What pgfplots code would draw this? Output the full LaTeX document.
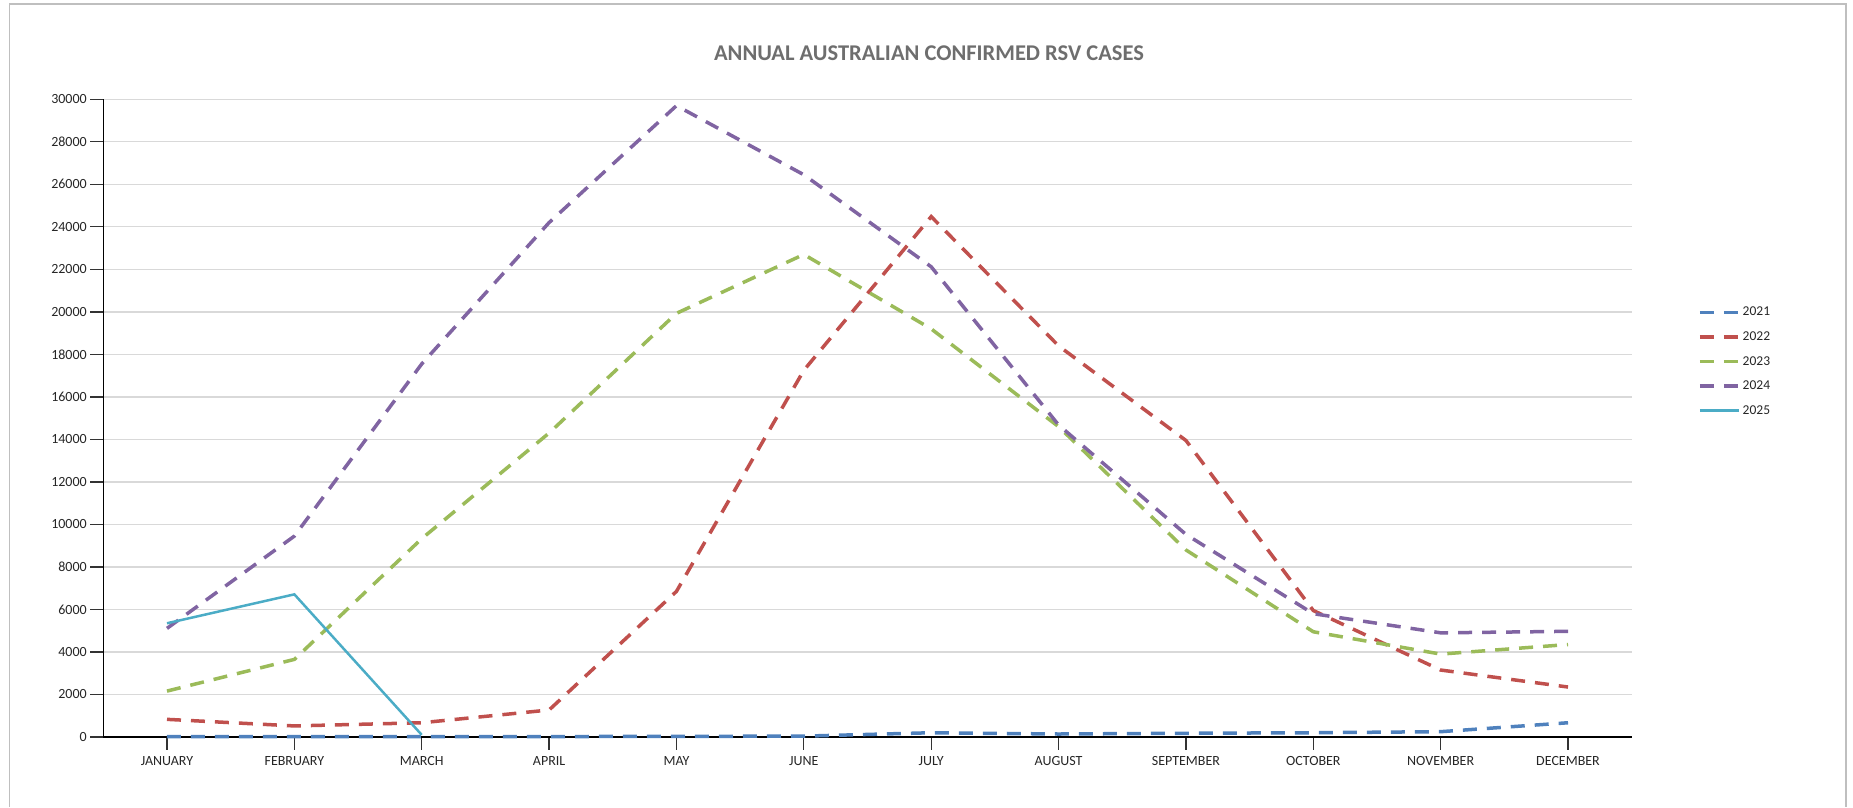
\documentclass[border=0pt]{standalone}
\usepackage{fontspec}
\setmainfont{Carlito}
\usepackage{pgfplots}
\pgfplotsset{compat=1.18}

\definecolor{c2021}{HTML}{4F81BD}
\definecolor{c2022}{HTML}{C0504D}
\definecolor{c2023}{HTML}{9BBB59}
\definecolor{c2024}{HTML}{8064A2}
\definecolor{c2025}{HTML}{4BACC6}
\definecolor{gridgray}{HTML}{D9D9D9}
\definecolor{framegray}{HTML}{BFBFBF}
\definecolor{titlegray}{HTML}{6E6E6E}
\definecolor{labelgray}{HTML}{262626}

\begin{document}
\begin{tikzpicture}
	\begin{axis}[
			scale only axis,
			width=1528.4pt, height=637.7pt,
			xmin=-0.5, xmax=11.5,
			ymin=0, ymax=30000,
			xtick={0,...,11},
			xticklabels={JANUARY,FEBRUARY,MARCH,APRIL,MAY,JUNE,JULY,AUGUST,SEPTEMBER,OCTOBER,NOVEMBER,DECEMBER},
			ytick={0,2000,...,30000},
			scaled y ticks=false,
			/pgf/number format/.cd, 1000 sep={}, assume math mode=true, /pgfplots/.cd,
			axis x line*=bottom, axis y line*=left,
			axis line style={black, line width=1.3pt, -},
			tick align=outside, tick pos=left,
			major tick length=13pt,
			tick style={black!80, line width=1.3pt},
			ymajorgrids,
			grid style={gridgray, line width=1.3pt},
			ticklabel style={font=\fontsize{14}{16}\selectfont, text=labelgray},
			xticklabel style={yshift=-3pt},
			clip=false,
			legend style={draw=none, fill=none, at={(1.0434,0.589)}, anchor=west,
				font=\fontsize{13.5}{16}\selectfont, text=labelgray, row sep=10.3pt,
				inner sep=0pt, nodes={inner sep=2pt}},
			legend cell align=left,
			legend image code/.code={\draw[#1] (0pt,0pt) -- (39pt,0pt);},
			dashline/.style={line width=3.5pt, dash pattern=on 14pt off 10pt},
		]
		% page box and chart frame, in axis description units
		\path (axis description cs:-0.06759,-0.10977) rectangle (axis description cs:1.14479,1.15571);
		\draw[framegray, line width=1.6pt] (axis description cs:-0.06137,-0.10977)
			-- (axis description cs:-0.06137,1.14945) -- (axis description cs:1.14018,1.14945)
			-- (axis description cs:1.14018,-0.10977);
		\node[font=\fontsize{22.5}{26}\selectfont\bfseries, text=titlegray]
			at (axis description cs:0.54023,1.07261) {ANNUAL AUSTRALIAN CONFIRMED RSV CASES};

		\addplot[c2021, dashline] coordinates {
			(0,20) (1,20) (2,20) (3,20) (4,30) (5,40)
			(6,200) (7,140) (8,175) (9,200) (10,250) (11,670)};
		\addlegendentry{2021}
		\addplot[c2022, dashline] coordinates {
			(0,830) (1,520) (2,670) (3,1270) (4,6850) (5,17250)
			(6,24480) (7,18400) (8,13950) (9,5950) (10,3150) (11,2350)};
		\addlegendentry{2022}
		\addplot[c2023, dashline] coordinates {
			(0,2160) (1,3650) (2,9330) (3,14300) (4,19930) (5,22700)
			(6,19200) (7,14600) (8,8800) (9,4950) (10,3900) (11,4350)};
		\addlegendentry{2023}
		\addplot[c2024, dashline] coordinates {
			(0,5110) (1,9450) (2,17550) (3,24200) (4,29700) (5,26450)
			(6,22120) (7,14680) (8,9530) (9,5800) (10,4900) (11,4970)};
		\addlegendentry{2024}
		\addplot[c2025, line width=2.5pt] coordinates {
			(0,5350) (1,6710) (2,100)};
		\addlegendentry{2025}
	\end{axis}
\end{tikzpicture}
\end{document}
